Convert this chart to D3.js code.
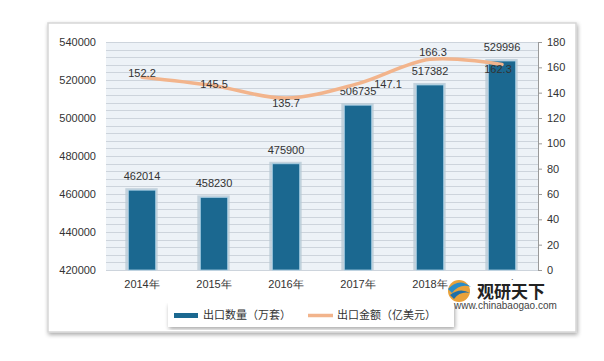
<!DOCTYPE html>
<html>
<head>
<meta charset="utf-8">
<script src="https://cdn.jsdelivr.net/npm/d3@7"></script>
<style>
body { margin: 0; background: #fff; font-family: "Liberation Sans", "Noto Sans CJK SC", sans-serif; }
</style>
</head>
<body>
<div id="chart"></div>
<script>
var years = ["2014年", "2015年", "2016年", "2017年", "2018年", "2019年"];
var qty = [462014, 458230, 475900, 506735, 517382, 529996];   // 出口数量（万套）
var amount = [152.2, 145.5, 135.7, 147.1, 166.3, 162.3];        // 出口金额（亿美元）
var leftTicks = [420000, 440000, 460000, 480000, 500000, 520000, 540000];
var rightTicks = [0, 20, 40, 60, 80, 100, 120, 140, 160, 180];
// nudges for line labels so they sit where the original has them
var amtLabelDx = [0, 0, 0, 30, 3, -4];
var amtLabelDy = [-4, -2, 5, 0, -7, 5];

var W = 604, H = 361;
var margin = { top: 42, right: 66, bottom: 91, left: 106 },
    width = 538 - margin.left,
    height = 270 - margin.top;

var svg = d3.select("#chart").append("svg")
    .attr("width", W)
    .attr("height", H);

var defs = svg.append("defs");
var f = defs.append("filter").attr("id", "shadow").attr("x", "-5%").attr("y", "-5%").attr("width", "110%").attr("height", "115%");
f.append("feGaussianBlur").attr("in", "SourceAlpha").attr("stdDeviation", 2);
f.append("feOffset").attr("dx", 1).attr("dy", 2).attr("result", "b");
f.append("feComponentTransfer").append("feFuncA").attr("type", "linear").attr("slope", 0.35);
var fm = f.append("feMerge");
fm.append("feMergeNode");
fm.append("feMergeNode").attr("in", "SourceGraphic");

// card
svg.append("rect")
    .attr("x", 48).attr("y", 23).attr("width", 528).attr("height", 309)
    .attr("fill", "#fff")
    .attr("stroke", "#d6d6d6")
    .attr("stroke-width", 1.5)
    .attr("filter", "url(#shadow)");

var g = svg.append("g")
    .attr("transform", "translate(" + margin.left + "," + margin.top + ")");

var x = d3.scaleBand()
    .domain(years)
    .range([0, width])
    .paddingInner(0.62)
    .paddingOuter(0.31);

var y = d3.scaleLinear()
    .domain([420000, 540000])
    .range([height, 0]);

var y2 = d3.scaleLinear()
    .domain([0, 180])
    .range([height, 0]);

// plot background stripes
g.append("rect")
    .attr("width", width).attr("height", height)
    .attr("fill", "#edf2f7");

g.append("g")
    .selectAll("line")
    .data(d3.range(420000, 540001, 4000))
    .enter()
    .append("line")
    .attr("x1", 0).attr("x2", width)
    .attr("y1", d => Math.round(y(d)) + 0.5)
    .attr("y2", d => Math.round(y(d)) + 0.5)
    .attr("stroke", "#cdd4dc")
    .attr("stroke-width", 1);

// left axis (labels only)
var ax = g.append("g")
    .call(d3.axisLeft(y).tickValues(leftTicks).tickSize(0).tickPadding(10).tickFormat(d3.format("d")));
ax.select(".domain").remove();
ax.selectAll("text").attr("font-size", 11).attr("fill", "#333");

// right axis
var ax2 = g.append("g")
    .attr("transform", "translate(" + width + ",0)")
    .call(d3.axisRight(y2).tickValues(rightTicks).tickSize(4).tickSizeOuter(0).tickPadding(5));
ax2.select(".domain").attr("stroke", "#9a9a9a");
ax2.selectAll(".tick line").attr("stroke", "#9a9a9a");
ax2.selectAll("text").attr("font-size", 11).attr("fill", "#333");

// bottom labels
var axb = g.append("g")
    .attr("transform", "translate(0," + height + ")")
    .call(d3.axisBottom(x).tickSize(0).tickPadding(10));
axb.select(".domain").remove();
axb.selectAll("text").attr("font-size", 11).attr("fill", "#333");

// bars with a soft light halo
g.selectAll(".halo")
    .data(qty)
    .enter()
    .append("rect")
    .attr("class", "halo")
    .attr("x", (d, i) => x(years[i]) - 3)
    .attr("y", d => y(d) - 2)
    .attr("width", x.bandwidth() + 5)
    .attr("height", d => height - y(d) + 2)
    .attr("fill", "#b8c9d6")
    .attr("opacity", 0.8);

g.selectAll(".bar")
    .data(qty)
    .enter()
    .append("rect")
    .attr("class", "bar")
    .attr("x", (d, i) => x(years[i]))
    .attr("y", d => y(d))
    .attr("width", x.bandwidth())
    .attr("height", d => height - y(d))
    .attr("fill", "#1b6890")
    .attr("stroke", "#a8d0e6")
    .attr("stroke-width", 0.8);

g.selectAll(".qlabel")
    .data(qty)
    .enter()
    .append("text")
    .attr("x", (d, i) => x(years[i]) + x.bandwidth() / 2)
    .attr("y", d => y(d) - 14)
    .attr("dy", "0.35em")
    .attr("text-anchor", "middle")
    .attr("font-size", 11)
    .attr("fill", "#333")
    .text(d => d);

// line
var line = d3.line()
    .x((d, i) => x(years[i]) + x.bandwidth() / 2)
    .y(d => y2(d))
    .curve(d3.curveCatmullRom.alpha(0.5));

g.append("path")
    .datum(amount)
    .attr("d", line)
    .attr("fill", "none")
    .attr("stroke", "#f2b48c")
    .attr("stroke-width", 3.5)
    .attr("stroke-linecap", "round");

g.selectAll(".alabel")
    .data(amount)
    .enter()
    .append("text")
    .attr("x", (d, i) => x(years[i]) + x.bandwidth() / 2 + amtLabelDx[i])
    .attr("y", (d, i) => y2(d) + amtLabelDy[i])
    .attr("dy", "0.35em")
    .attr("text-anchor", "middle")
    .attr("font-size", 11)
    .attr("fill", "#333")
    .text(d => d.toFixed(1));

// legend
var lg = svg.append("g").attr("transform", "translate(168,303)");
lg.append("rect")
    .attr("width", 286).attr("height", 24)
    .attr("fill", "#fff")
    .attr("filter", "url(#shadow)");
lg.append("rect")
    .attr("x", 6).attr("y", 10).attr("width", 24).attr("height", 5)
    .attr("fill", "#1b6890");
lg.append("text")
    .attr("x", 35).attr("y", 12).attr("dy", "0.35em")
    .attr("font-size", 11).attr("fill", "#333")
    .attr("font-family", "Noto Sans CJK SC")
    .text("出口数量（万套）");
lg.append("line")
    .attr("x1", 140).attr("x2", 165).attr("y1", 12.5).attr("y2", 12.5)
    .attr("stroke", "#f2b48c").attr("stroke-width", 3.5);
lg.append("text")
    .attr("x", 169).attr("y", 12).attr("dy", "0.35em")
    .attr("font-size", 11).attr("fill", "#333")
    .attr("font-family", "Noto Sans CJK SC")
    .text("出口金额（亿美元）");

// watermark (it sits over the last year label, as in the original)
var wm = svg.append("g").attr("transform", "translate(446,279)");
wm.append("rect")
    .attr("x", 30).attr("y", 1).attr("width", 76).attr("height", 21)
    .attr("fill", "#fff");
wm.append("circle").attr("cx", 13).attr("cy", 12).attr("r", 11).attr("fill", "#e9a23b");
wm.append("path").attr("d", "M2,10 Q13,-2 25,8 Q14,4 6,14 Z").attr("fill", "#2a8cc8");
wm.append("path").attr("d", "M4,16 Q14,8 24,14 Q14,12 8,20 Z").attr("fill", "#1f6fa8");
wm.append("text")
    .attr("x", 31).attr("y", 19)
    .attr("font-size", 17).attr("font-weight", "bold").attr("fill", "#222")
    .attr("font-family", "Noto Sans CJK SC")
    .text("观研天下");
wm.append("text")
    .attr("x", 8).attr("y", 30)
    .attr("font-size", 10).attr("fill", "#444")
    .text("www.chinabaogao.com");
</script>
</body>
</html>
